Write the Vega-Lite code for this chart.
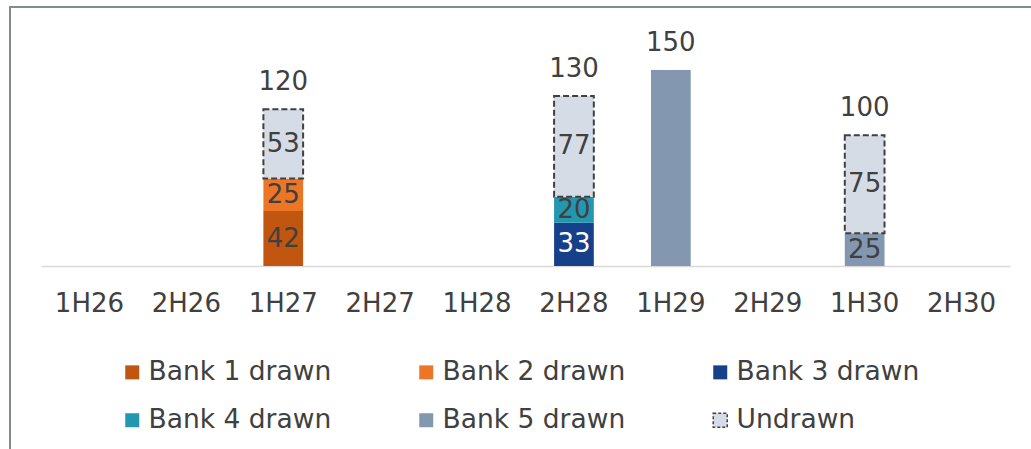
{
  "$schema": "https://vega.github.io/schema/vega-lite/v6.json",
  "width": 1031,
  "height": 452,
  "autosize": {"type": "none"},
  "padding": {"left": 10, "top": 7, "right": 0, "bottom": 0},
  "background": "white",
  "config": {
    "font": "DejaVu Sans",
    "view": {"stroke": "#858C86", "strokeWidth": 2},
    "text": {"font": "DejaVu Sans"}
  },
  "data": {
    "values": [
      {"period": "1H27", "series": "Bank 1 drawn", "value": 42},
      {"period": "1H27", "series": "Bank 2 drawn", "value": 25},
      {"period": "1H27", "series": "Undrawn", "value": 53},
      {"period": "2H28", "series": "Bank 3 drawn", "value": 33},
      {"period": "2H28", "series": "Bank 4 drawn", "value": 20},
      {"period": "2H28", "series": "Undrawn", "value": 77},
      {"period": "1H29", "series": "Bank 5 drawn", "value": 150},
      {"period": "1H30", "series": "Bank 5 drawn", "value": 25},
      {"period": "1H30", "series": "Undrawn", "value": 75}
    ]
  },
  "encoding": {
    "x": {
      "field": "period",
      "type": "nominal",
      "sort": null,
      "scale": {
        "domain": ["1H26", "2H26", "1H27", "2H27", "1H28", "2H28", "1H29", "2H29", "1H30", "2H30"],
        "range": [31, 1000],
        "paddingInner": 0.59,
        "paddingOuter": 0.295
      },
      "axis": {
        "title": null,
        "orient": "bottom",
        "offset": -193,
        "domainColor": "#D9D9D9",
        "domainWidth": 1.5,
        "ticks": false,
        "grid": false,
        "labelPadding": 24,
        "labelFontSize": 26,
        "labelFont": "DejaVu Sans",
        "labelColor": "#404040",
        "labelAngle": 0
      }
    }
  },
  "layer": [
    {
      "mark": {"type": "bar", "strokeWidth": 2, "strokeDash": [6, 3]},
      "encoding": {
        "y": {
          "field": "value",
          "type": "quantitative",
          "stack": "zero",
          "scale": {"domain": [-147.7, 198.2], "nice": false, "zero": false},
          "axis": null
        },
        "order": {"field": "series", "sort": "ascending"},
        "color": {
          "field": "series",
          "type": "nominal",
          "scale": {
            "domain": ["Bank 1 drawn", "Bank 2 drawn", "Bank 3 drawn", "Bank 4 drawn", "Bank 5 drawn", "Undrawn"],
            "range": ["#C0560F", "#ED7626", "#17408B", "#2396B0", "#8497B0", "#D6DCE5"]
          },
          "legend": {
            "title": null,
            "orient": "none",
            "legendX": 109,
            "legendY": 352,
            "direction": "horizontal",
            "columns": 3,
            "symbolType": "square",
            "symbolSize": 196,
            "symbolStrokeWidth": 1.5,
            "symbolDash": [3, 2],
            "labelFontSize": 26.5,
            "labelFont": "DejaVu Sans",
            "labelColor": "#404040",
            "labelOffset": 3,
            "labelLimit": 400,
            "columnPadding": 81,
            "rowPadding": 21,
            "padding": 0
          }
        },
        "stroke": {
          "field": "series",
          "type": "nominal",
          "scale": {
            "domain": ["Bank 1 drawn", "Bank 2 drawn", "Bank 3 drawn", "Bank 4 drawn", "Bank 5 drawn", "Undrawn"],
            "range": ["transparent", "transparent", "transparent", "transparent", "transparent", "#404040"]
          },
          "legend": {
            "title": null,
            "orient": "none",
            "legendX": 109,
            "legendY": 352,
            "direction": "horizontal",
            "columns": 3,
            "symbolType": "square",
            "symbolSize": 196,
            "symbolStrokeWidth": 1.5,
            "symbolDash": [3, 2],
            "labelFontSize": 26.5,
            "labelFont": "DejaVu Sans",
            "labelColor": "#404040",
            "labelOffset": 3,
            "labelLimit": 400,
            "columnPadding": 81,
            "rowPadding": 21,
            "padding": 0
          }
        }
      }
    },
    {
      "transform": [
        {"stack": "value", "groupby": ["period"], "sort": [{"field": "series", "order": "ascending"}], "as": ["y0", "y1"]},
        {"filter": "datum.period !== '1H29'"},
        {"calculate": "(datum.y0 + datum.y1) / 2", "as": "ymid"}
      ],
      "mark": {"type": "text", "fontSize": 26, "baseline": "middle", "align": "center", "font": "DejaVu Sans"},
      "encoding": {
        "y": {"field": "ymid", "type": "quantitative"},
        "text": {"field": "value", "type": "quantitative"},
        "color": {
          "condition": {"test": "datum.series === 'Bank 3 drawn'", "value": "white"},
          "value": "#404040"
        }
      }
    },
    {
      "transform": [
        {"aggregate": [{"op": "sum", "field": "value", "as": "total"}], "groupby": ["period"]}
      ],
      "mark": {"type": "text", "fontSize": 26, "baseline": "alphabetic", "align": "center", "dy": -19, "font": "DejaVu Sans", "color": "#404040"},
      "encoding": {
        "y": {"field": "total", "type": "quantitative"},
        "text": {"field": "total", "type": "quantitative"}
      }
    }
  ]
}
